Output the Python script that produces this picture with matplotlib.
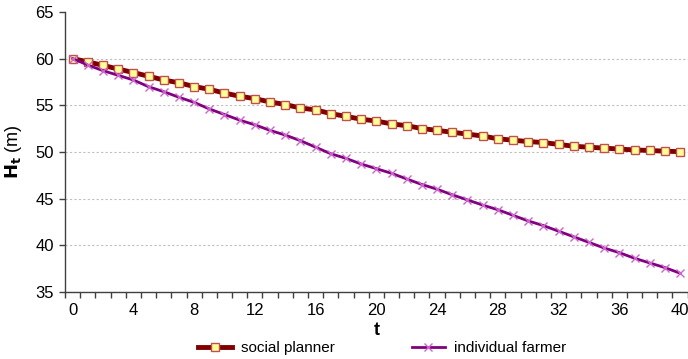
import numpy as np
import matplotlib
matplotlib.use("Agg")
import matplotlib.pyplot as plt

plt.rcParams["font.family"] = ["Liberation Sans", "DejaVu Sans"]

# data
t = list(range(41))
social_planner = [
    60.0, 59.64, 59.27, 58.87, 58.5, 58.1, 57.7, 57.4, 57.0, 56.7,
    56.3, 55.96, 55.7, 55.35, 55.07, 54.7, 54.5, 54.1, 53.8, 53.5,
    53.3, 53.0, 52.8, 52.5, 52.3, 52.1, 51.9, 51.7, 51.4, 51.25,
    51.1, 51.0, 50.8, 50.6, 50.5, 50.4, 50.3, 50.2, 50.15, 50.07, 50.02,
]
individual_farmer = [
    60.0, 59.3, 58.7, 58.2, 57.7, 56.98, 56.45, 55.85, 55.3, 54.6,
    54.0, 53.4, 52.9, 52.3, 51.8, 51.2, 50.5, 49.8, 49.3, 48.7,
    48.2, 47.7, 47.1, 46.5, 46.0, 45.4, 44.85, 44.3, 43.8, 43.2,
    42.6, 42.1, 41.5, 40.9, 40.3, 39.7, 39.2, 38.6, 38.1, 37.6, 37.0,
]
xtick_labels = list(range(0, 41, 4))
ytick_vals = list(range(35, 66, 5))

fig = plt.figure(figsize=(6.88, 3.59), dpi=100)
ax = fig.add_axes([0.0945, 0.187, 0.905, 0.78])

ax.plot(t, social_planner, color="#800000", lw=3.5, marker="s", ms=6,
        mfc="#FFFF99", mec="#C0504D", mew=1.0, label="social planner", zorder=3)
ax.plot(t, individual_farmer, color="#800080", lw=2.0, marker="x", ms=6,
        mec="#CC66CC", mew=1.0, label="individual farmer", zorder=3)

ax.set_xlim(-0.5, 40.5)
ax.set_ylim(35, 65)

# category-style axis: ticks between points, labels every 4
ax.set_xticks(np.arange(-0.5, 41, 1.0))
ax.set_xticklabels([])
ax.set_xticks(xtick_labels, minor=True)
ax.set_xticklabels([str(v) for v in xtick_labels], minor=True, fontsize=12)
ax.tick_params(axis="x", which="major", length=4, width=1, color="#404040")
ax.tick_params(axis="x", which="minor", length=0, pad=8)

ax.set_yticks(ytick_vals)
ax.set_yticklabels([str(v) for v in ytick_vals], fontsize=12)
ax.tick_params(axis="y", length=4, width=1, color="#404040", pad=4)

ax.yaxis.grid(True, linestyle=(0, (2, 2)), color="#BFBFBF", lw=0.8)
ax.get_ygridlines()[-1].set_visible(False)
ax.set_axisbelow(True)

for side in ("top", "right"):
    ax.spines[side].set_visible(False)
for side in ("left", "bottom"):
    ax.spines[side].set_color("#404040")
    ax.spines[side].set_linewidth(1.0)

ax.set_xlabel("t", fontsize=13, fontweight="bold", labelpad=3)
ax.set_ylabel(r"$\mathbf{H_t}$ (m)", fontsize=13, labelpad=8)

fig.legend(*ax.get_legend_handles_labels(), loc="center",
           bbox_to_anchor=(0.556, 0.03), ncol=2, frameon=False,
           fontsize=11, handlelength=2.2, handletextpad=0.6, columnspacing=5.0)

fig.savefig("out.png", dpi=100)
